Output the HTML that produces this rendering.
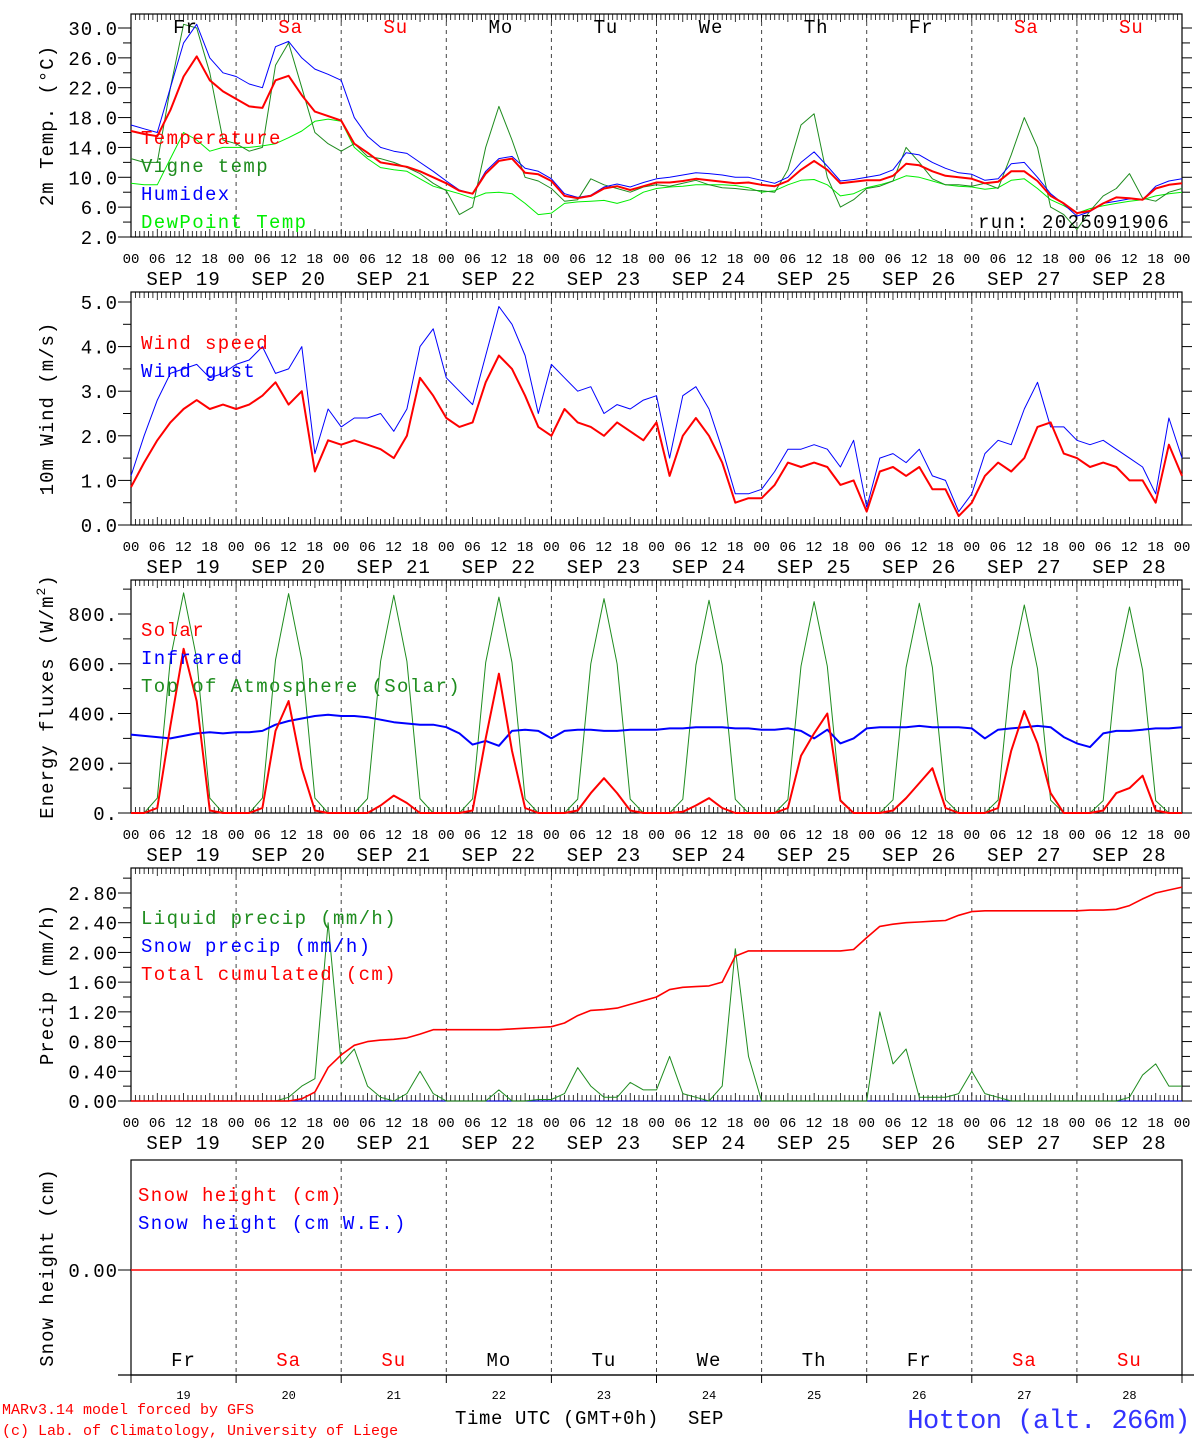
<!DOCTYPE html>
<html><head><meta charset="utf-8"><style>
body{margin:0;background:#fff}
svg{display:block}
text{font-family:"Liberation Mono","DejaVu Sans Mono",monospace}
</style></head><body>
<svg id="c" width="1194" height="1440" viewBox="0 0 1194 1440" xmlns="http://www.w3.org/2000/svg"></svg>
<script>
// ---- data (3-hourly, h = 0..240) ----
const dayNames=["Fr","Sa","Su","Mo","Tu","We","Th","Fr","Sa","Su"];
const dayNums=["19","20","21","22","23","24","25","26","27","28"];
const temperature=[16.2,15.8,15.5,19,23.5,26.2,23,21.5, 20.5,19.5,19.3,23,23.6,21,18.8,18.2, 17.6,14.5,13.3,12,11.7,11.4,10.8,10, 9.2,8.2,7.8,10.5,12.2,12.5,10.6,10.4, 9.5,7.5,7.2,7.5,8.5,8.8,8.3,8.8, 9.3,9.3,9.5,9.8,9.6,9.4,9.2,9.3, 9.0,8.8,9.5,11,12.2,11,9.2,9.4, 9.6,9.6,10.2,11.8,11.6,10.8,10.2,10.0, 9.8,9.2,9.4,10.8,10.8,9.5,7.5,6.5, 5.2,5.5,6.5,7.3,7.2,7.0,8.5,9.0,9.2];
const humidex=[17,16.5,16,22,28,30.5,26,24, 23.5,22.5,22,27.5,28.2,26,24.5,23.8, 23,18,15.5,14,13.5,13.2,12,10.8, 9.5,8.3,7.8,10.8,12.5,12.8,11.2,10.8, 9.8,7.8,7.3,7.6,8.7,9.1,8.7,9.3, 9.8,10,10.3,10.6,10.5,10.3,10,10, 9.6,9.2,10,12,13.4,11.5,9.5,9.7, 10,10.3,11,13.3,13,12,11.2,10.6, 10.4,9.6,9.8,11.8,12,10,7.8,6.4, 4.8,5.4,6.5,6.8,7.1,7.0,8.8,9.5,9.8];
const vigne=[12.5,12,12,22,30.5,30,24,15, 14.5,13.5,14,25,28,22,16,14.5, 13.5,14.5,12.8,12.5,12.0,11.3,10.5,9.2, 8.2,5,6,14,19.5,15,10,9.5, 8.5,6.8,7,9.8,9.0,8.5,8.0,8.7, 9,8.8,9.2,9.6,9.0,8.6,8.5,8.3, 8.2,8.0,11,17,18.5,10,6,7, 8.5,8.8,9.5,14,12,9.8,9.0,9.0, 8.8,9.2,8.5,13,18,14,6,5, 3,5.5,7.5,8.5,10.5,7.2,6.8,8.0,8.5];
const dewpoint=[9.2,9.0,9,12.5,16,15,13.5,14, 14,14,14.2,14.5,15.3,16.2,17.5,17.8, 17.5,14,12.5,11.3,11.0,10.8,9.8,8.8, 8.3,7.8,7.2,7.9,8.0,7.8,6.5,5, 5.2,6.5,6.7,6.8,6.9,6.5,7.0,8, 8.5,8.7,8.8,9.0,9.0,9.0,8.9,8.6, 8.0,8.2,9.0,9.6,9.7,9.0,7.5,7.8, 8.6,9.0,9.5,10.2,10.0,9.5,9.0,8.8, 8.7,8.4,8.6,9.6,9.8,8.5,7.0,6.2, 5.2,5.8,6.2,6.5,6.8,7.0,7.5,7.8,8.0];
const windSpeed=[0.85,1.4,1.9,2.3,2.6,2.8,2.6,2.7, 2.6,2.7,2.9,3.2,2.7,3.0,1.2,1.9, 1.8,1.9,1.8,1.7,1.5,2.0,3.3,2.9, 2.4,2.2,2.3,3.2,3.8,3.5,2.9,2.2, 2.0,2.6,2.3,2.2,2.0,2.3,2.1,1.9, 2.3,1.1,2.0,2.4,2.0,1.4,0.5,0.6, 0.6,0.9,1.4,1.3,1.4,1.3,0.9,1.0, 0.3,1.2,1.3,1.1,1.3,0.8,0.8,0.2, 0.5,1.1,1.4,1.2,1.5,2.2,2.3,1.6, 1.5,1.3,1.4,1.3,1.0,1.0,0.5,1.8,1.1];
const windGust=[1.1,2.0,2.8,3.4,3.5,3.6,3.3,3.4, 3.6,3.7,4.0,3.4,3.5,4.0,1.6,2.6, 2.2,2.4,2.4,2.5,2.1,2.6,4.0,4.4, 3.3,3.0,2.7,3.8,4.9,4.5,3.8,2.5, 3.6,3.3,3.0,3.1,2.5,2.7,2.6,2.8, 2.9,1.5,2.9,3.1,2.6,1.7,0.7,0.7, 0.8,1.2,1.7,1.7,1.8,1.7,1.3,1.9, 0.4,1.5,1.6,1.4,1.7,1.1,1.0,0.3, 0.7,1.6,1.9,1.8,2.6,3.2,2.2,2.2, 1.9,1.8,1.9,1.7,1.5,1.3,0.7,2.4,1.5];
const solar=[0,0,20,350,660,450,10,0, 0,0,20,330,450,180,10,0, 0,0,0,30,70,40,0,0, 0,0,10,300,560,250,20,0, 0,0,10,80,140,80,10,0, 0,0,5,30,60,20,0,0, 0,0,20,230,320,400,50,0, 0,0,10,60,120,180,20,0, 0,0,20,250,410,280,80,0, 0,0,10,80,100,150,10,0,0];
const infrared=[315,310,305,300,310,320,325,320, 325,325,330,355,370,380,390,395, 390,390,385,375,365,360,355,355, 345,320,275,290,270,330,335,330, 300,330,335,335,330,330,335,335, 335,340,340,345,345,345,340,340, 335,335,340,330,300,335,280,300, 340,345,345,345,350,345,345,345, 340,300,335,340,345,350,345,305, 280,265,320,330,330,335,340,340,345];
const toa=[0,0,60,620,885,620,60,0, 0,0,60,615,882,615,60,0, 0,0,58,610,875,610,58,0, 0,0,57,605,868,605,57,0, 0,0,56,600,862,600,56,0, 0,0,55,595,855,595,55,0, 0,0,54,590,850,590,54,0, 0,0,53,585,843,585,53,0, 0,0,52,580,836,580,52,0, 0,0,50,575,828,575,50,0,0];
const liquidPrecip=[0,0,0,0,0,0,0,0, 0,0,0,0,0.05,0.2,0.3,2.4, 0.5,0.7,0.2,0.05,0,0.1,0.4,0.1, 0,0,0,0,0.15,0,0,0.02, 0.02,0.1,0.45,0.2,0.05,0.05,0.25,0.15, 0.15,0.6,0.1,0.05,0,0.2,2.05,0.6, 0,0,0,0,0,0,0,0, 0,1.2,0.5,0.7,0.05,0.05,0.05,0.1, 0.4,0.1,0.05,0,0,0,0,0, 0,0,0,0,0.05,0.35,0.5,0.2,0.2];
const snowPrecip=new Array(81).fill(0);
const totalCum=[0,0,0,0,0,0,0,0, 0,0,0,0,0,0.03,0.12,0.45, 0.62,0.75,0.8,0.82,0.83,0.85,0.9,0.96, 0.96,0.96,0.96,0.96,0.96,0.97,0.98,0.99, 1.0,1.05,1.15,1.22,1.23,1.25,1.3,1.35, 1.4,1.5,1.53,1.54,1.55,1.6,1.95,2.02, 2.02,2.02,2.02,2.02,2.02,2.02,2.02,2.04, 2.2,2.35,2.38,2.4,2.41,2.42,2.43,2.5, 2.55,2.56,2.56,2.56,2.56,2.56,2.56,2.56, 2.56,2.57,2.57,2.58,2.63,2.72,2.8,2.84,2.88];
const snowHeight=new Array(81).fill(0);
const tempTicks=["2.0","6.0","10.0","14.0","18.0","22.0","26.0","30.0"];
const windTicks=["0.0","1.0","2.0","3.0","4.0","5.0"];
const fluxTicks=["0.","200.","400.","600.","800."];
const precipTicks=["0.00","0.40","0.80","1.20","1.60","2.00","2.40","2.80"];

// ---- drawing ----
const svg=document.getElementById('c');
const NS='http://www.w3.org/2000/svg';
const X0=131,X1=1182;
function xs(h){return X0+h*(X1-X0)/240;}
function mk(tag,at,parent){const e=document.createElementNS(NS,tag);for(const k in at)e.setAttribute(k,at[k]);(parent||svg).appendChild(e);return e;}
function txt(s,x,y,size,fill,anchor,ls){const t=mk('text',{x:x,y:y,'font-size':size,fill:fill||'#000','text-anchor':anchor||'start'});if(ls)t.setAttribute('letter-spacing',ls);t.textContent=s;return t;}
function yscale(p){return v=>p.y0-(v-p.v0)*(p.y0-p.y1)/(p.v1-p.v0);}

function panel(p){
  const g=mk('g',{});
  
  
  const ys=yscale(p);
  mk('rect',{x:X0,y:p.top,width:X1-X0,height:p.bot-p.top,fill:'none',stroke:'#000','stroke-width':1.2},g);
  for(let d=1;d<10;d++){const l=mk('line',{x1:xs(d*24),x2:xs(d*24),y1:p.top,y2:p.bot,stroke:'#444','stroke-dasharray':'4,4','stroke-width':1},g);
    }
  if(p.hourTicks){
    for(let h=0;h<=240;h++){const L=(h%6==0)?8:6;
      mk('line',{x1:xs(h),x2:xs(h),y1:p.top,y2:p.top+L,stroke:'#000','stroke-width':0.8},g);
      mk('line',{x1:xs(h),x2:xs(h),y1:p.bot,y2:p.bot-L,stroke:'#000','stroke-width':0.8},g);}
  }
  p.ticks.forEach((lab,i)=>{const v=p.tv[i];const y=ys(v);
    mk('line',{x1:X0-13,x2:X0,y1:y,y2:y,stroke:'#000'},g);
    mk('line',{x1:X1,x2:X1+10,y1:y,y2:y,stroke:'#000'},g);
    const t=txt(lab,118,y+7,19,'#000','end','1');
    if(p.minor){const ym=ys(v+p.minor);if(ym>p.top+2){mk('line',{x1:X0-8,x2:X0,y1:ym,y2:ym,stroke:'#000'},g);mk('line',{x1:X1,x2:X1+8,y1:ym,y2:ym,stroke:'#000'},g);}}
  });
  const tl=mk('text',{x:0,y:0,'font-size':19,fill:'#000','text-anchor':'middle','letter-spacing':'1',transform:`translate(53,${(p.top+p.bot)/2}) rotate(-90)`},g);
  tl.textContent=p.title;
  
  if(p.sup){const s=mk('tspan',{'font-size':13,dy:-8},tl);s.textContent='2';const s2=mk('tspan',{dy:8},tl);s2.textContent=')';}
  if(p.xlabels){
    for(let h=0;h<=240;h+=6){const t=txt(String(h%24).padStart(2,'0'),xs(h),p.bot+26,14,'#000','middle');}
    dayNums.forEach((d,i)=>{const t=txt('SEP '+d,xs(i*24+12),p.bot+48,19,'#000','middle','1');});
  }
  p.series.forEach(s=>{
    const pts=s.data.map((v,i)=>xs(i*3).toFixed(1)+','+ys(v).toFixed(1)).join(' ');
    const pl=mk('polyline',{points:pts,fill:'none',stroke:s.color,'stroke-width':s.w||1,'stroke-linejoin':'round'},g);
    
  });
  p.legend.forEach((l,i)=>{const t=txt(l[0],p.lx||141,p.ly+i*28,19,l[1],'start','1.4');});
  return ys;
}

panel({name:'temperature-panel',top:14,bot:237,v0:2,v1:30,y0:237,y1:28,ticks:tempTicks,tv:[2,6,10,14,18,22,26,30],minor:2,title:'2m Temp. (\u00B0C)',hourTicks:true,xlabels:true,
  series:[{data:dewpoint,color:'#00ee00',name:'dewpoint-line'},{data:vigne,color:'#1e8c1e',name:'vigne-temp-line'},{data:humidex,color:'#0000ff',name:'humidex-line'},{data:temperature,color:'#ff0000',w:2,name:'temperature-line'}],
  legend:[['Temperature','#ff0000'],['Vigne temp','#1e8c1e'],['Humidex','#0000ff'],['DewPoint Temp','#00ee00']],ly:144});
dayNames.forEach((d,i)=>{const t=txt(d,xs(i*24+12)+2,33,19,(d=='Sa'||d=='Su')?'#ff0000':'#000','middle','1');});
{const t=txt('run: 2025091906',1170,228,19,'#000','end','1.4');}

panel({name:'wind-panel',top:292,bot:525,v0:0,v1:5,y0:525,y1:302,ticks:windTicks,tv:[0,1,2,3,4,5],minor:0.5,title:'10m Wind (m/s)',hourTicks:true,xlabels:true,
  series:[{data:windGust,color:'#0000ff',name:'wind-gust-line'},{data:windSpeed,color:'#ff0000',w:2,name:'wind-speed-line'}],
  legend:[['Wind speed','#ff0000'],['Wind gust','#0000ff']],ly:349});

panel({name:'energy-panel',top:580,bot:813,v0:0,v1:800,y0:813,y1:614,ticks:fluxTicks,tv:[0,200,400,600,800],minor:100,title:'Energy fluxes (W/m',sup:true,hourTicks:true,xlabels:true,
  series:[{data:toa,color:'#1e8c1e',name:'toa-solar-line'},{data:infrared,color:'#0000ff',w:2,name:'infrared-line'},{data:solar,color:'#ff0000',w:2,name:'solar-line'}],
  legend:[['Solar','#ff0000'],['Infrared','#0000ff'],['Top of Atmosphere (Solar)','#1e8c1e']],ly:636});

panel({name:'precip-panel',top:868,bot:1101,v0:0,v1:2.8,y0:1101,y1:893,ticks:precipTicks,tv:[0,0.4,0.8,1.2,1.6,2.0,2.4,2.8],minor:0.2,title:'Precip (mm/h)',hourTicks:true,xlabels:true,
  series:[{data:snowPrecip,color:'#0000ff',name:'snow-precip-line'},{data:liquidPrecip,color:'#1e8c1e',name:'liquid-precip-line'},{data:totalCum,color:'#ff0000',w:1.6,name:'total-cumulated-line'}],
  legend:[['Liquid precip (mm/h)','#1e8c1e'],['Snow precip (mm/h)','#0000ff'],['Total cumulated (cm)','#ff0000']],ly:924});

panel({name:'snow-panel',top:1160,bot:1375,v0:-1,v1:1,y0:1375,y1:1165,ticks:["0.00"],tv:[0],title:'Snow height (cm)',hourTicks:false,xlabels:false,
  series:[{data:snowHeight,color:'#ff0000',w:1.5,name:'snow-height-line'}],
  legend:[['Snow height (cm)','#ff0000'],['Snow height (cm W.E.)','#0000ff']],ly:1201,lx:138});
mk('line',{x1:118,x2:1194,y1:1375,y2:1375,stroke:'#000','stroke-width':1.2});
for(let d=0;d<=10;d++)mk('line',{x1:xs(d*24),x2:xs(d*24),y1:1375,y2:1383,stroke:'#000'});
dayNames.forEach((d,i)=>{
  const t=txt(d,xs(i*24+12),1366,19,(d=='Sa'||d=='Su')?'#ff0000':'#000','middle','1');
  const n=txt(dayNums[i],xs(i*24+12),1399,12,'#000','middle');
});
{let t=txt('Time UTC (GMT+0h)',455,1424,19,'#000','start','0.6');
 t=txt('SEP',688,1424,19,'#000','start','0.6');
 t=txt('MARv3.14 model forced by GFS',2,1414,15,'#ff0000','start','0');
 t=txt('(c) Lab. of Climatology, University of Liege',2,1435,15,'#ff0000','start','0');
 t=txt('Hotton (alt. 266m)',1190,1428,27,'#3333ff','end','-0.5');}
</script>
</body></html>
